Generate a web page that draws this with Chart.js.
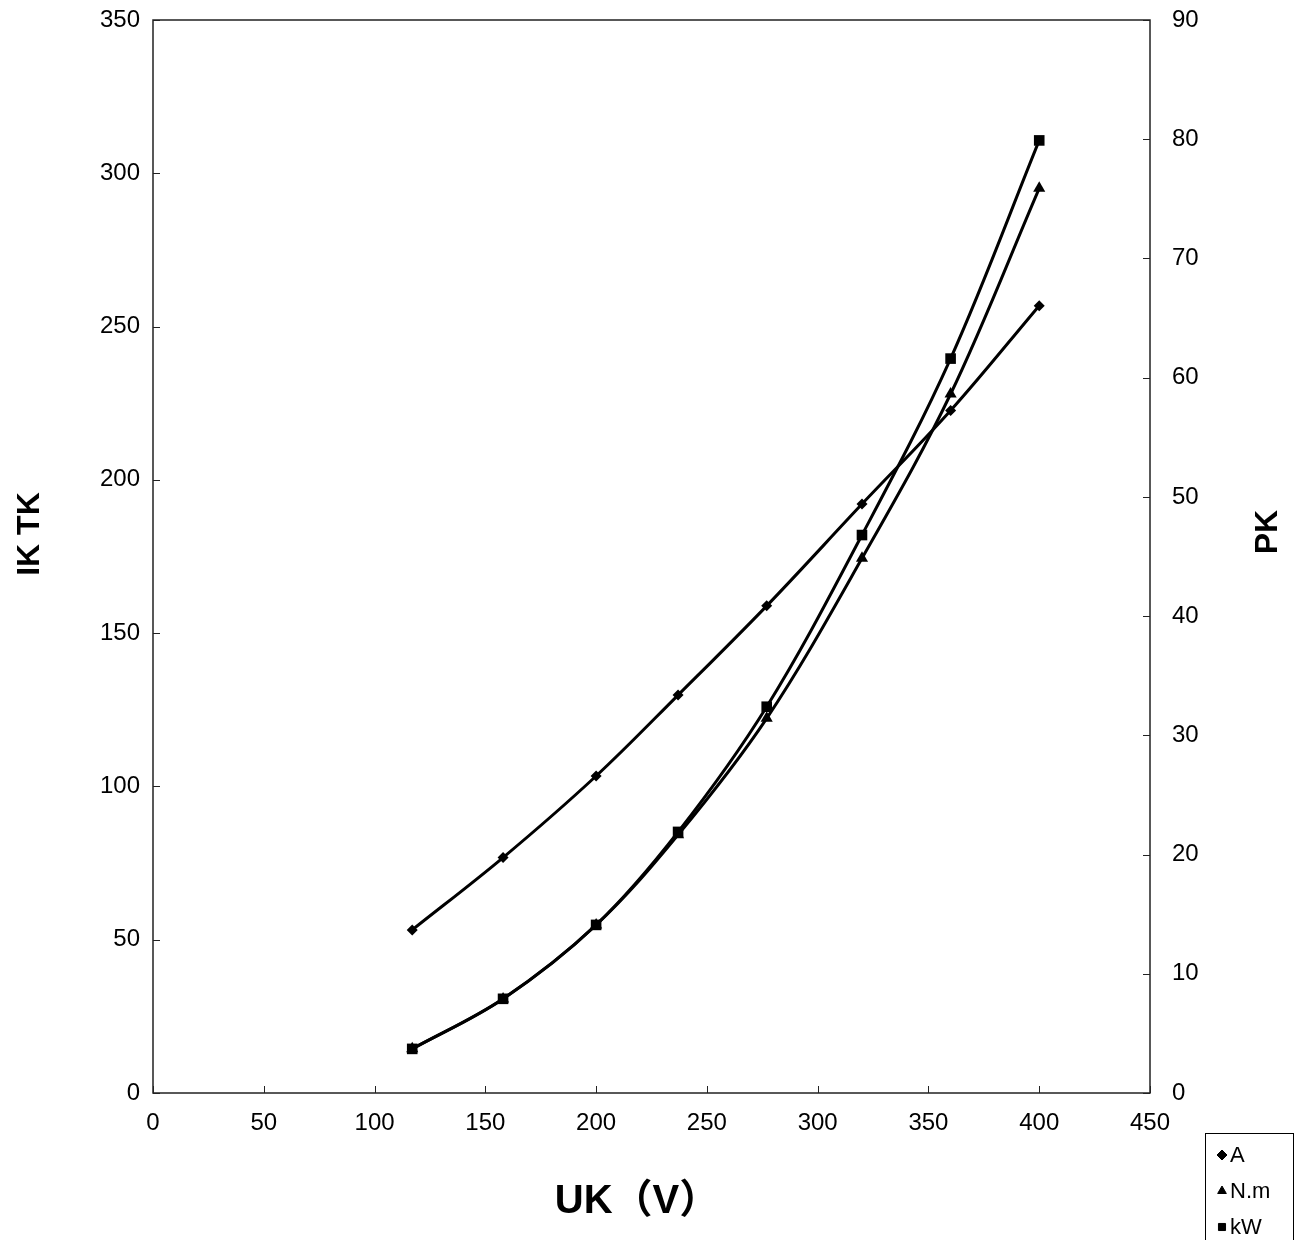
<!DOCTYPE html>
<html>
<head>
<meta charset="utf-8">
<script src="https://cdn.jsdelivr.net/npm/chart.js@4"></script>
<style>
  body { margin: 0; background: #fff; }
  #wrap { width: 1295px; height: 1240px; }
</style>
</head>
<body>
<div id="wrap"><canvas id="motorChart" width="1295" height="1240"></canvas></div>
<script>
// values
const uk = [117, 158, 200, 237, 277, 320, 360, 400];
const ampere = [53.2, 76.8, 103.4, 129.8, 158.9, 192.1, 222.6, 256.8];
const torque = [14.4, 30.7, 54.8, 84.2, 122.2, 174.4, 228.0, 295.1];
const power = [3.7, 7.9, 14.1, 21.9, 32.4, 46.8, 61.6, 79.9];

const seriesNames = ['A', 'N.m', 'kW'];
const pointStyles = ['rectRot', 'triangle', 'rect'];

const FONT = "'Liberation Sans', Arial, 'Noto Sans CJK SC', sans-serif";

function toPoints(ys) {
    return uk.map(function(x, i) { return { x: x, y: ys[i] }; });
}

function fixWidth(w) {
    return function(scale) {
        scale.width = w;
        scale.paddingTop = 0;
        scale.paddingBottom = 0;
    };
}

// frame + inward tick marks, like the spreadsheet original
const framePlugin = {
    id: 'frame',
    afterDraw: function(chart) {
        const ctx = chart.ctx;
        const a = chart.chartArea;
        ctx.save();
        ctx.strokeStyle = '#222';
        ctx.lineWidth = 1.5;
        ctx.strokeRect(a.left, a.top, a.right - a.left, a.bottom - a.top);
        ctx.lineWidth = 1;
        ctx.beginPath();
        chart.scales.x.ticks.forEach(function(t) {
            const px = Math.round(chart.scales.x.getPixelForValue(t.value)) + 0.5;
            ctx.moveTo(px, a.bottom);
            ctx.lineTo(px, a.bottom - 7);
        });
        chart.scales.y.ticks.forEach(function(t) {
            const py = Math.round(chart.scales.y.getPixelForValue(t.value)) + 0.5;
            ctx.moveTo(a.left, py);
            ctx.lineTo(a.left + 7, py);
        });
        chart.scales.y1.ticks.forEach(function(t) {
            const py = Math.round(chart.scales.y1.getPixelForValue(t.value)) + 0.5;
            ctx.moveTo(a.right, py);
            ctx.lineTo(a.right - 7, py);
        });
        ctx.stroke();

        // axis titles
        ctx.fillStyle = '#000';
        ctx.textAlign = 'center';
        ctx.textBaseline = 'middle';
        ctx.font = 'bold 40px ' + FONT;
        ctx.fillText('UK（V）', 637, 1202);

        ctx.font = 'bold 32px ' + FONT;
        ctx.save();
        ctx.translate(30, 534);
        ctx.rotate(-Math.PI / 2);
        ctx.fillText('IK TK', 0, 0);
        ctx.restore();
        ctx.save();
        ctx.translate(1268, 532);
        ctx.rotate(-Math.PI / 2);
        ctx.fillText('PK', 0, 0);
        ctx.restore();

        // legend box
        const lx = 1205, ly = 1133;
        ctx.fillStyle = '#fff';
        ctx.fillRect(lx, ly, 88, 110);
        ctx.strokeStyle = '#000';
        ctx.lineWidth = 1;
        ctx.strokeRect(lx + 0.5, ly + 0.5, 88, 110);
        ctx.font = '22px ' + FONT;
        ctx.textAlign = 'left';
        chart.data.datasets.forEach(function(ds, i) {
            const y = 1155 + i * 36;
            ctx.fillStyle = '#000';
            ctx.strokeStyle = '#000';
            Chart.helpers.drawPoint(ctx, { pointStyle: pointStyles[i], radius: 5, rotation: 0, borderWidth: 1 }, 1222, y);
            ctx.fillStyle = '#000';
            ctx.fillText(ds.label, 1230, y + 1);
        });
        ctx.restore();
    }
};

const ctx = document.getElementById('motorChart').getContext('2d');

const motorChart = new Chart(ctx, {
    type: 'scatter',
    data: {
        datasets: [
            {
                label: seriesNames[0],
                data: toPoints(ampere),
                yAxisID: 'y',
                pointStyle: pointStyles[0],
                pointRadius: 5.5,
                order: 3
            },
            {
                label: seriesNames[1],
                data: toPoints(torque),
                yAxisID: 'y',
                pointStyle: pointStyles[1],
                pointRadius: 7,
                order: 2
            },
            {
                label: seriesNames[2],
                data: toPoints(power),
                yAxisID: 'y1',
                pointStyle: pointStyles[2],
                pointRadius: 7.5,
                order: 1
            }
        ].map(function(ds) {
            return Object.assign({
                showLine: true,
                tension: 0.35,
                borderColor: '#000',
                backgroundColor: '#000',
                borderWidth: 3,
                pointBorderWidth: 0,
                pointBackgroundColor: '#000'
            }, ds);
        })
    },
    options: {
        responsive: false,
        animation: false,
        layout: { padding: { top: 20, left: 0, right: 0, bottom: 0 } },
        plugins: {
            legend: { display: false },
            tooltip: { enabled: false }
        },
        scales: {
            x: {
                type: 'linear',
                min: 0,
                max: 450,
                grid: { display: false, drawTicks: false },
                border: { display: false },
                ticks: { stepSize: 50, padding: 16, color: '#000', font: { family: FONT, size: 24 } },
                afterFit: function(scale) { scale.height = 147; }
            },
            y: {
                type: 'linear',
                position: 'left',
                min: 0,
                max: 350,
                grid: { display: false, drawTicks: false },
                border: { display: false },
                ticks: { stepSize: 50, padding: 13, color: '#000', font: { family: FONT, size: 24 } },
                afterFit: fixWidth(153)
            },
            y1: {
                type: 'linear',
                position: 'right',
                min: 0,
                max: 90,
                grid: { display: false, drawTicks: false },
                border: { display: false },
                ticks: { stepSize: 10, padding: 22, color: '#000', font: { family: FONT, size: 24 } },
                afterFit: fixWidth(145)
            }
        }
    },
    plugins: [framePlugin]
});
</script>
</body>
</html>
